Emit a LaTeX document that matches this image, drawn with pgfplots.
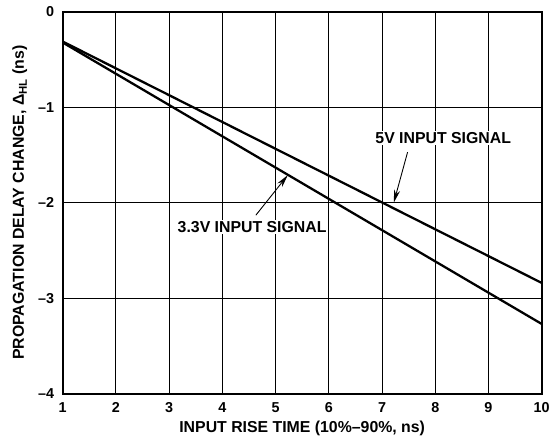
\documentclass[border=0pt]{standalone}
\usepackage{pgfplots}
\pgfplotsset{compat=1.18}
\usepackage{fontspec}
\setmainfont{Liberation Sans}
\usetikzlibrary{arrows.meta}

\begin{document}
\begin{tikzpicture}
\begin{axis}[
  name=ax,
  scale only axis,
  width=482bp, height=384bp,
  xmin=1, xmax=10, ymin=-4, ymax=0,
  xtick={1,...,10},
  ytick={-4,-3,-2,-1,0},
  yticklabels={–4,–3,–2,–1,0},
  grid=major,
  major grid style={black, line width=0.9pt},
  axis line style={black, line width=2pt},
  tick style={draw=none},
  ticklabel style={font=\fontsize{14.5}{16}\selectfont\bfseries},
  yticklabel style={anchor=east, xshift=-5bp},
  xticklabel style={anchor=center, yshift=-14bp},
  /pgf/number format/assume math mode=true,
  xlabel={INPUT RISE TIME (10\%–90\%, ns)},
  ylabel={PROPAGATION DELAY CHANGE, Δ\raisebox{-0.35ex}{\fontsize{11.5}{12}\selectfont HL} (ns)},
  label style={font=\fontsize{16}{18}\selectfont\bfseries},
  xlabel style={at={(axis description cs:0.5,0)}, anchor=center, yshift=-35bp},
  ylabel style={at={(axis description cs:0,0.5)}, anchor=center, yshift=43bp},
]
% 5V input signal
\addplot[black, line width=2.3pt] coordinates {(1,-0.31) (10,-2.84)};
% 3.3V input signal
\addplot[black, line width=2.3pt] coordinates {(1,-0.32) (10,-3.27)};

\node[fill=white, inner sep=1.5bp, font=\fontsize{16}{18}\selectfont\bfseries] at (axis cs:8.15,-1.32) {5V INPUT SIGNAL};
\node[fill=white, inner sep=1.5bp, font=\fontsize{16}{18}\selectfont\bfseries] at (axis cs:4.56,-2.25) {3.3V INPUT SIGNAL};
\draw[black, line width=0.9pt, -{Stealth[length=13bp,width=6bp]}] (axis cs:7.48,-1.47) -- (axis cs:7.22,-2.0);
\draw[black, line width=0.9pt, -{Stealth[length=13bp,width=6bp]}] (axis cs:4.63,-2.13) -- (axis cs:5.23,-1.71);
\end{axis}
\path ([shift={(-63bp,-48bp)}]ax.south west) rectangle ([shift={(8bp,12bp)}]ax.north east);
\end{tikzpicture}
\end{document}
